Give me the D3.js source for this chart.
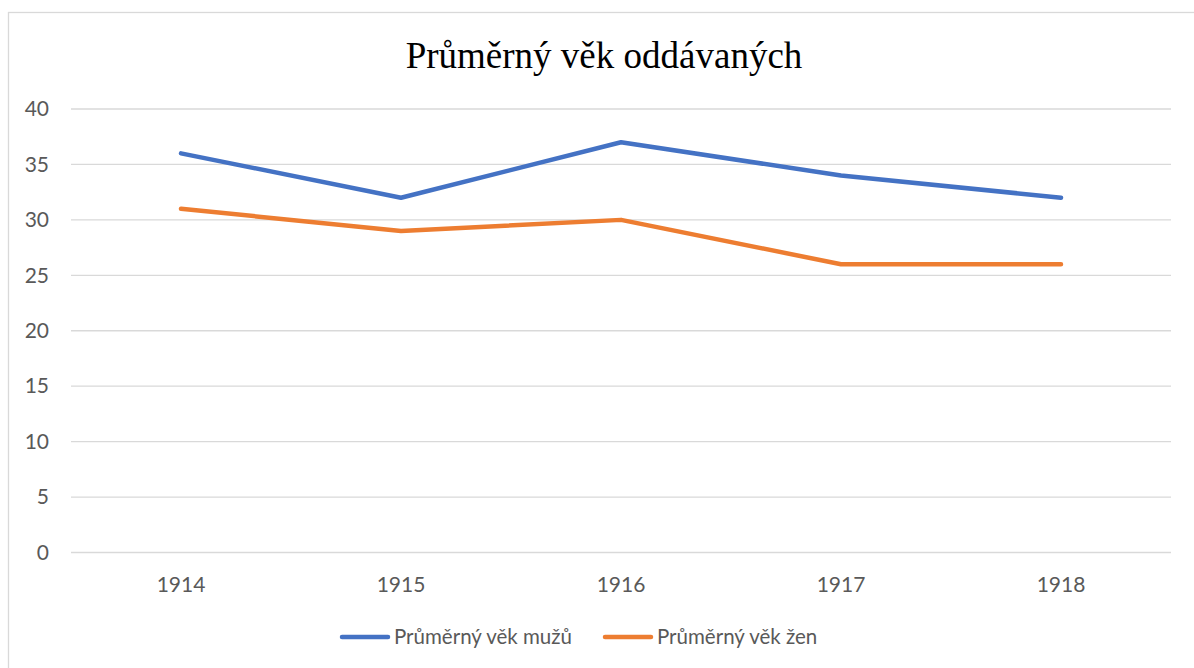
<!DOCTYPE html>
<html>
<head>
<meta charset="utf-8">
<script src="https://cdn.jsdelivr.net/npm/d3@7"></script>
<style>
  body { margin: 0; background: #fff; }
  svg { display: block; }
</style>
</head>
<body>
<div id="chart"></div>
<script>
let w = 1194
let h = 668
let margin = { top: 109, right: 23, bottom: 116, left: 71 }

let YEARS = ["1914", "1915", "1916", "1917", "1918"]
let MEN = [36, 32, 37, 34, 32]
let WOMEN = [31, 29, 30, 26, 26]
let Y_TICKS = [0, 5, 10, 15, 20, 25, 30, 35, 40]
let SERIES_NAMES = ["Průměrný věk mužů", "Průměrný věk žen"]
let COLORS = ["#4472C4", "#ED7D31"]
let TITLE = "Průměrný věk oddávaných"

let labelFont = "Lato, 'Open Sans', sans-serif"

let svg = d3.select("#chart")
  .append("svg")
  .attr("width", w)
  .attr("height", h)

// chart frame
svg.append("rect")
  .attr("x", 8.5).attr("y", 12.5)
  .attr("width", w + 10).attr("height", h + 10)
  .attr("fill", "none")
  .attr("stroke", "#d9d9d9")
  .attr("stroke-width", 1.3)

let x = d3.scaleBand()
  .domain(YEARS)
  .range([margin.left, w - margin.right])

let y = d3.scaleLinear()
  .domain([0, 40])
  .range([h - margin.bottom + 0.5, margin.top])

// gridlines
svg.append("g")
  .selectAll("line")
  .data(Y_TICKS)
  .enter()
  .append("line")
  .attr("x1", margin.left)
  .attr("x2", w - margin.right)
  .attr("y1", d => y(d))
  .attr("y2", d => y(d))
  .attr("stroke", "#d9d9d9")
  .attr("stroke-width", 1.3)

// y axis labels
let yAxis = d3.axisLeft(y).tickValues(Y_TICKS).tickSize(0).tickPadding(0)
svg.append("g")
  .attr("transform", "translate(" + (margin.left - 22) + ",0)")
  .call(yAxis)
  .call(g => g.select(".domain").remove())
  .selectAll("text")
  .attr("font-family", labelFont)
  .attr("font-size", 21)
  .attr("fill", "#595959")

// x axis labels
let xAxis = d3.axisBottom(x).tickSize(0).tickPadding(0)
svg.append("g")
  .attr("transform", "translate(0," + (y(0) + 24.5) + ")")
  .call(xAxis)
  .call(g => g.select(".domain").remove())
  .selectAll("text")
  .attr("font-family", labelFont)
  .attr("font-size", 21)
  .attr("fill", "#595959")

// lines
let line = d3.line()
  .x((d, i) => x(YEARS[i]) + x.bandwidth() / 2)
  .y(d => y(d))

;[MEN, WOMEN].forEach((data, i) => {
  svg.append("path")
    .datum(data)
    .attr("d", line)
    .attr("fill", "none")
    .attr("stroke", COLORS[i])
    .attr("stroke-width", 4.5)
    .attr("stroke-linejoin", "round")
    .attr("stroke-linecap", "round")
})

// title
svg.append("text")
  .attr("x", 604)
  .attr("y", 68)
  .attr("text-anchor", "middle")
  .attr("font-family", "'Liberation Serif', 'Times New Roman', serif")
  .attr("font-size", 37)
  .attr("fill", "#000")
  .text(TITLE)

// legend
let legendX = [340, 603]
let legend = svg.append("g")
SERIES_NAMES.forEach((name, i) => {
  legend.append("line")
    .attr("x1", legendX[i] + 2).attr("x2", legendX[i] + 48)
    .attr("y1", 637).attr("y2", 637)
    .attr("stroke", COLORS[i])
    .attr("stroke-width", 4.5)
    .attr("stroke-linecap", "round")
  legend.append("text")
    .attr("x", legendX[i] + 54)
    .attr("y", 643.5)
    .attr("font-family", labelFont)
    .attr("font-size", 20.5)
    .attr("fill", "#595959")
    .text(name)
})
</script>
</body>
</html>
